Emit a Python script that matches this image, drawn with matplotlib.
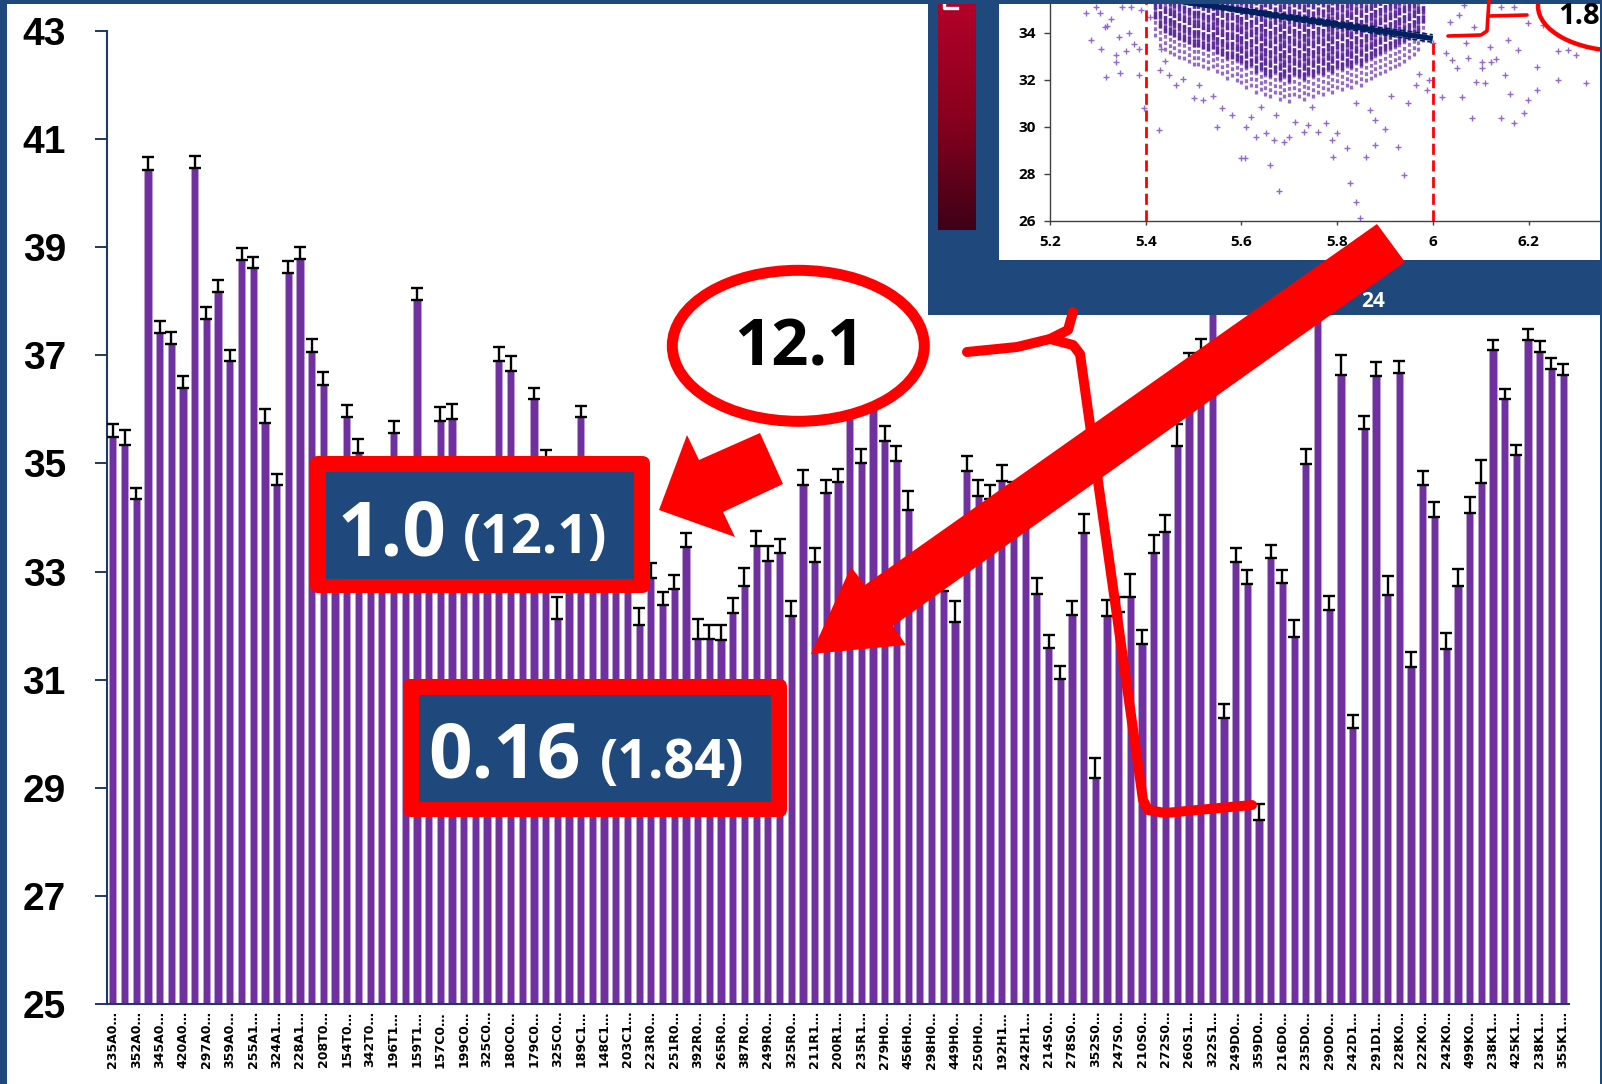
import numpy as np
import matplotlib
matplotlib.use("Agg")
import matplotlib.pyplot as plt
from matplotlib.patches import Rectangle, FancyBboxPatch, Ellipse, Polygon
from matplotlib.colors import LinearSegmentedColormap

W, H, DPI = 1602, 1084, 100

# ---- main bar chart data -------------------------------------------------
values = [
    35.48, 35.35, 34.35, 40.43, 37.42, 37.21, 36.39, 40.46, 37.67, 38.18,
    36.89, 38.76, 38.62, 35.75, 34.60, 38.52, 38.79, 37.07, 36.46, 34.20,
    35.86, 35.20, 34.00, 33.60, 35.56, 34.40, 38.02, 33.90, 35.79, 35.83,
    34.50, 33.80, 34.80, 36.89, 36.71, 34.60, 36.19, 34.95, 32.12, 33.50,
    35.85, 33.20, 33.80, 33.00, 33.40, 32.02, 32.89, 32.38, 32.67, 33.45,
    31.76, 31.76, 31.74, 32.23, 32.73, 33.48, 33.20, 33.34, 32.18, 34.61,
    33.18, 34.45, 34.66, 36.30, 35.00, 36.60, 35.41, 35.04, 34.14, 32.80,
    33.00, 32.64, 32.06, 34.86, 34.40, 34.35, 34.67, 34.40, 34.10, 32.59,
    31.59, 31.01, 32.20, 33.71, 29.18, 32.18, 32.25, 32.53, 31.66, 33.35,
    33.74, 35.33, 36.80, 37.05, 38.40, 30.30, 33.17, 32.77, 28.40, 33.26,
    32.78, 31.79, 34.99, 38.00, 32.29, 36.63, 30.10, 35.63, 36.62, 32.57,
    36.68, 31.23, 34.61, 34.01, 31.57, 32.74, 34.09, 34.64, 37.09, 36.19,
    35.16, 37.28, 37.06, 36.74, 36.63,
]
errors = [
    0.25, 0.27, 0.20, 0.23, 0.22, 0.22, 0.22, 0.22, 0.22, 0.22,
    0.21, 0.22, 0.20, 0.25, 0.20, 0.22, 0.22, 0.24, 0.23, 0.25,
    0.23, 0.25, 0.25, 0.25, 0.22, 0.25, 0.23, 0.25, 0.26, 0.27,
    0.25, 0.25, 0.25, 0.27, 0.28, 0.25, 0.21, 0.30, 0.41, 0.25,
    0.22, 0.25, 0.25, 0.25, 0.25, 0.30, 0.27, 0.25, 0.27, 0.27,
    0.37, 0.26, 0.27, 0.28, 0.33, 0.27, 0.28, 0.27, 0.28, 0.26,
    0.25, 0.25, 0.23, 0.25, 0.26, 0.25, 0.28, 0.28, 0.35, 0.25,
    0.25, 0.25, 0.40, 0.28, 0.29, 0.25, 0.30, 0.25, 0.25, 0.30,
    0.24, 0.25, 0.25, 0.36, 0.38, 0.30, 0.28, 0.42, 0.25, 0.32,
    0.30, 0.40, 0.25, 0.26, 0.25, 0.25, 0.26, 0.25, 0.30, 0.24,
    0.25, 0.32, 0.27, 0.25, 0.26, 0.38, 0.25, 0.25, 0.25, 0.34,
    0.22, 0.28, 0.25, 0.28, 0.29, 0.31, 0.29, 0.42, 0.19, 0.19,
    0.19, 0.20, 0.21, 0.21, 0.21,
]
tick_labels = [
    "235A0", "352A0", "345A0", "420A0", "297A0", "359A0", "255A1", "324A1",
    "228A1", "208T0", "154T0", "342T0", "196T1", "159T1", "157C0", "199C0",
    "325C0", "180C0", "179C0", "325C0", "189C1", "148C1", "203C1", "223R0",
    "251R0", "392R0", "265R0", "387R0", "249R0", "325R0", "211R1", "200R1",
    "235R1", "279H0", "456H0", "298H0", "449H0", "250H0", "192H1", "242H1",
    "214S0", "278S0", "352S0", "247S0", "210S0", "272S0", "260S1", "322S1",
    "249D0", "359D0", "216D0", "235D0", "290D0", "242D1", "291D1", "228K0",
    "222K0", "242K0", "499K0", "238K1", "425K1", "238K1", "355K1",
]
y_ticks = [25, 27, 29, 31, 33, 35, 37, 39, 41, 43]

# ---- inset scatter data ---------------------------------------------------
fit_x = [5.4, 6.0]
fit_y = [35.55, 33.75]
col_x = [5.42, 5.43, 5.44, 5.45, 5.46, 5.47, 5.48, 5.49, 5.50, 5.51,
         5.52, 5.53, 5.54, 5.55, 5.56, 5.57, 5.58, 5.59, 5.60, 5.61,
         5.62, 5.63, 5.64, 5.65, 5.66, 5.67, 5.68, 5.69, 5.70, 5.71,
         5.72, 5.73, 5.74, 5.75, 5.76, 5.77, 5.78, 5.79, 5.80, 5.81,
         5.82, 5.83, 5.84, 5.85, 5.86, 5.87, 5.88, 5.89, 5.90, 5.91,
         5.92, 5.93, 5.94, 5.95, 5.96, 5.97, 5.98]
col_lo = [33.8, 33.4, 33.2, 33.1, 33.0, 32.9, 32.85, 32.7, 32.6, 32.6,
          32.5, 32.4, 32.5, 32.3, 32.2, 32.0, 32.1, 31.9, 31.8, 31.6,
          31.7, 31.4, 31.5, 31.3, 31.2, 31.4, 31.1, 31.2, 31.0, 31.3,
          31.2, 31.1, 31.3, 31.2, 31.4, 31.3, 31.5, 31.4, 31.6, 31.5,
          31.7, 31.6, 31.8, 31.7, 31.9, 32.0, 32.1, 32.2, 32.3, 32.4,
          32.5, 32.6, 32.7, 32.9, 33.0, 33.2, 33.6]
col_core_lo = [34.6, 34.2, 34.0, 33.9, 33.8, 33.7, 33.6, 33.5, 33.4, 33.4,
               33.3, 33.2, 33.3, 33.1, 33.0, 32.9, 32.9, 32.8, 32.7, 32.5,
               32.6, 32.3, 32.4, 32.2, 32.1, 32.3, 32.0, 32.1, 31.9, 32.2,
               32.1, 32.0, 32.2, 32.1, 32.3, 32.2, 32.4, 32.3, 32.5, 32.4,
               32.6, 32.5, 32.7, 32.6, 32.8, 32.9, 33.0, 33.1, 33.2, 33.3,
               33.4, 33.5, 33.6, 33.7, 33.8, 34.0, 34.4]
pts_x = [5.276, 5.286, 5.296, 5.306, 5.316, 5.320, 5.328, 5.338, 5.338, 5.347,
         5.350, 5.358, 5.366, 5.376, 5.386, 5.386, 5.390, 5.397, 5.410, 5.427,
         5.430, 5.432, 5.440, 5.448, 5.464, 5.477, 5.500, 5.512, 5.520, 5.540,
         5.548, 5.560, 5.580, 5.600, 5.608, 5.610, 5.620, 5.630, 5.640, 5.652,
         5.660, 5.668, 5.672, 5.678, 5.688, 5.700, 5.712, 5.730, 5.740, 5.748,
         5.760, 5.776, 5.790, 5.792, 5.800, 5.820, 5.828, 5.840, 5.840, 5.848,
         5.860, 5.868, 5.880, 5.880, 5.900, 5.912, 5.928, 5.940, 5.948, 5.964,
         5.972, 5.988, 5.992, 6.000, 6.020, 6.028, 6.036, 6.040, 6.050, 6.054,
         6.060, 6.066, 6.070, 6.074, 6.082, 6.086, 6.090, 6.102, 6.102, 6.110,
         6.120, 6.122, 6.132, 6.142, 6.142, 6.150, 6.158, 6.162, 6.170, 6.170,
         6.178, 6.190, 6.198, 6.198, 6.218, 6.218, 6.230, 6.262, 6.262, 6.282,
         6.300, 6.320, 6.278, 5.304, 5.314, 5.344, 5.370]
pts_y = [34.85, 33.70, 35.10, 33.30, 32.10, 34.30, 34.60, 33.05, 32.75, 32.30,
         35.10, 33.20, 33.97, 33.50, 33.30, 32.20, 34.96, 30.80, 34.68, 29.86,
         32.40, 33.30, 32.80, 32.20, 31.77, 32.05, 31.20, 31.77, 31.14, 31.30,
         30.00, 30.80, 30.50, 28.65, 28.65, 30.00, 30.43, 29.58, 30.85, 29.72,
         28.37, 29.43, 30.50, 27.25, 29.36, 29.58, 30.21, 29.79, 30.07, 30.85,
         29.79, 30.14, 29.43, 28.72, 29.72, 29.08, 27.60, 31.00, 26.80, 26.10,
         28.72, 30.70, 30.29, 29.20, 29.90, 31.30, 29.15, 27.94, 31.00, 31.77,
         32.26, 31.56, 31.98, 33.55, 31.28, 33.13, 34.47, 32.84, 32.48, 34.75,
         31.28, 35.18, 33.55, 32.91, 30.36, 34.26, 31.90, 32.77, 32.48, 31.84,
         33.40, 32.77, 32.90, 30.36, 35.10, 32.20, 33.68, 31.40, 35.10, 30.14,
         33.26, 30.57, 31.14, 34.40, 32.55, 31.56, 34.33, 33.20, 31.98, 33.26,
         33.05, 31.84, 35.10, 34.82, 34.26, 33.83, 35.10]

NAVY = "#1F497D"
PURPLE = "#7030A0"
AXIS_BLUE = "#1F3864"

fig = plt.figure(figsize=(W / DPI, H / DPI), dpi=DPI)
fig.patch.set_facecolor("white")


def fx(px):
    return px / W


def fy(py):
    return 1 - py / H


# ---- main bar chart -------------------------------------------------------
ax = fig.add_axes([fx(107), fy(1004), fx(1569) - fx(107), fy(31) - fy(1004)])
xpos = np.arange(len(values))
ax.bar(xpos, values, width=0.62, color=PURPLE, edgecolor="#B9A2D6",
       linewidth=0.5, zorder=2)
ax.errorbar(xpos, values, yerr=[np.zeros(len(values)), errors], fmt="none",
            ecolor="black", elinewidth=1.7, capsize=4.3, capthick=1.7, zorder=3)
ax.set_xlim(-0.5, len(values) - 0.5)
ax.set_ylim(25, 43)
ax.set_yticks(y_ticks)
ax.set_yticklabels([str(t) for t in y_ticks], fontsize=28, fontweight="bold",
                   family=["Liberation Sans", "DejaVu Sans"])
ax.tick_params(axis="y", direction="out", length=8.6, width=1.4,
               color=AXIS_BLUE, pad=21)
ax.set_xticks(xpos[::2])
ax.set_xticklabels([t + "\u2026" for t in tick_labels], rotation=90,
                   fontsize=9, fontweight="bold", family="DejaVu Sans")
ax.tick_params(axis="x", length=0, pad=5)
for side in ("top", "right"):
    ax.spines[side].set_visible(False)
for side in ("left", "bottom"):
    ax.spines[side].set_color(AXIS_BLUE)
    ax.spines[side].set_linewidth(1.5)

# ---- inset background: frame, colour ramp -------------------------------
bg = fig.add_axes([0, 0, 1, 1], zorder=5)
bg.set_xlim(0, W)
bg.set_ylim(H, 0)
bg.axis("off")
bg.patch.set_visible(False)
bg.add_patch(Rectangle((928, 0), W - 928, 315, facecolor=NAVY, edgecolor="none"))
bg.add_patch(Rectangle((999, 0), W - 999, 260, facecolor="white", edgecolor="none"))
ramp = LinearSegmentedColormap.from_list("ramp", ["#B5002A", "#8A001E", "#3E0018"])
bg.imshow(np.linspace(0, 1, 256).reshape(-1, 1), cmap=ramp, aspect="auto",
          extent=(938, 976, 230, 0), origin="upper", zorder=2)
bg.plot([944, 944, 957], [0, 8, 8], color="white", lw=2.4, zorder=3)
bg.text(1361, 307, "24", color="white", fontsize=15, fontweight="bold",
        family=["Open Sans", "DejaVu Sans"], ha="left", va="baseline")
bg.set_xlim(0, W)
bg.set_ylim(H, 0)

# ---- inset scatter --------------------------------------------------------
ins = fig.add_axes([fx(1050), fy(220.7), fx(W) - fx(1050), fy(0) - fy(220.7)],
                   zorder=6)
ins.patch.set_visible(False)
ins.set_xlim(5.2, 6.3536)
ins.set_ylim(26, 35.39)
ins.vlines(col_x, col_lo, 35.6, colors="#8A5CC6", lw=2.3,
           linestyles=(0, (1.2, 0.8)), alpha=0.9)
ins.vlines(col_x, col_core_lo, 35.6, colors="#5A2797", lw=2.5,
           linestyles=(0, (2.2, 0.6)), alpha=0.95)
ins.scatter(pts_x, pts_y, marker="+", s=13, color="#9468CC", linewidths=1.0)
ins.plot(fit_x, [fit_y[0] + 0.07, fit_y[1] + 0.16], color="#002060", lw=1.2,
         ls=(0, (3, 1.5)))
ins.plot(fit_x, [fit_y[0] - 0.07, fit_y[1] - 0.16], color="#002060", lw=1.2,
         ls=(0, (3, 1.5)))
ins.plot(fit_x, fit_y, color="#002060", lw=3.8, solid_capstyle="butt")
ins.vlines([fit_x[0]], 26, 35.39, colors="red", lw=2.0, linestyles=(0, (4, 2)))
ins.vlines([fit_x[1]], 26, fit_y[1], colors="red", lw=2.0, linestyles=(0, (4, 2)))
ins.set_xticks([5.2, 5.4, 5.6, 5.8, 6.0, 6.2])
ins.set_xticklabels(["5.2", "5.4", "5.6", "5.8", "6", "6.2"], fontsize=11,
                    fontweight="bold", family=["Open Sans", "DejaVu Sans"])
ins.set_yticks([26, 28, 30, 32, 34])
ins.set_yticklabels(["26", "28", "30", "32", "34"], fontsize=11,
                    fontweight="bold", family=["Open Sans", "DejaVu Sans"])
ins.tick_params(axis="x", direction="out", length=3, width=1, color="#404040", pad=7)
ins.tick_params(axis="y", direction="out", length=4, width=1, color="#404040", pad=6)
for side in ("top", "right"):
    ins.spines[side].set_visible(False)
for side in ("left", "bottom"):
    ins.spines[side].set_color("#404040")
    ins.spines[side].set_linewidth(1.0)

# ---- annotations ----------------------------------------------------------
ov = fig.add_axes([0, 0, 1, 1], zorder=7)
ov.set_xlim(0, W)
ov.set_ylim(H, 0)
ov.axis("off")
ov.patch.set_visible(False)

TXT = ["Open Sans", "DejaVu Sans"]

# brace and ellipse inside the inset
ov.plot([1448, 1481, 1487, 1489], [36, 35, 31, 0], color="red", lw=2.6,
        solid_joinstyle="round", solid_capstyle="round")
ov.plot([1489, 1527], [16, 15], color="red", lw=2.6, solid_capstyle="round")
ov.add_patch(Ellipse((1622, 6), 168, 90, facecolor="white", edgecolor="red",
                     lw=3.2))
ov.text(1558, 17, "1.8", fontsize=21, fontweight="bold", family=TXT,
        color="black", ha="left", va="center")

# ellipse 12.1
ov.add_patch(Ellipse((798.3, 345.8), 252, 151, facecolor="white",
                     edgecolor="red", lw=7.9))
ov.text(799, 349, "12.1", fontsize=47, fontweight="bold", family=TXT,
        color="black", ha="center", va="center")

# brace from the ellipse
ov.plot([967, 1017, 1050, 1068, 1073], [352, 347, 339, 330, 312], color="red",
        lw=7.2, solid_capstyle="round", solid_joinstyle="round")
ov.plot([1050, 1073, 1080, 1143, 1148, 1165, 1252],
        [339, 345, 354, 800, 810, 813, 805], color="red", lw=7.2,
        solid_capstyle="round", solid_joinstyle="round")

# value boxes
def value_box(outer, inner, big, small, big_xy, small_xy):
    x0, y0, x1, y1 = outer
    ov.add_patch(FancyBboxPatch((x0, y0), x1 - x0, y1 - y0,
                                boxstyle="round,pad=0,rounding_size=8",
                                facecolor="red", edgecolor="none"))
    a0, b0, a1, b1 = inner
    ov.add_patch(Rectangle((a0, b0), a1 - a0, b1 - b0, facecolor=NAVY,
                           edgecolor="none"))
    ov.text(big_xy[0], big_xy[1], big, fontsize=55, fontweight="bold",
            family=TXT, color="white", ha="left", va="baseline")
    ov.text(small_xy[0], small_xy[1], small, fontsize=39, fontweight="bold",
            family=TXT, color="white", ha="left", va="baseline")


value_box((310, 456, 650, 593), (326, 472, 634, 579), "1.0", "(12.1)",
          (338, 555), (463, 553))
value_box((403, 679, 787, 817), (419, 695, 771, 802), "0.16", "(1.84)",
          (428, 778), (600, 778))

# arrows
ov.add_patch(Polygon([(659, 510), (687, 435), (699, 460), (760, 433),
                      (783, 484), (723, 512), (735, 537)],
                     closed=True, facecolor="red", edgecolor="none"))
ov.add_patch(Polygon([(811, 654), (851, 567), (865, 585), (1377, 224),
                      (1405, 262), (893, 626), (906, 645)],
                     closed=True, facecolor="red", edgecolor="none"))

# page frame
ov.add_patch(Rectangle((0, 0), 7, H, facecolor=NAVY, edgecolor="none"))
ov.add_patch(Rectangle((0, 0), W, 4, facecolor=NAVY, edgecolor="none"))
ov.add_patch(Rectangle((W - 2, 0), 2, H, facecolor=NAVY, edgecolor="none"))

fig.savefig("out.png", dpi=DPI)
